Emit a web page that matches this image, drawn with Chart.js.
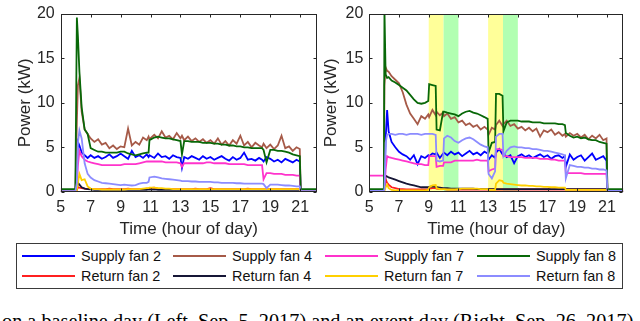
<!DOCTYPE html>
<html><head><meta charset="utf-8">
<script src="https://cdn.jsdelivr.net/npm/chart.js@4"></script>
<style>
html,body{margin:0;padding:0;background:#fff;width:640px;height:321px;overflow:hidden;position:relative;font-family:"Liberation Sans",Arial,sans-serif;}
canvas{position:absolute;top:0;}
#legend{position:absolute;left:16px;top:243px;width:605px;height:44px;border:1px solid #3a3a3a;background:#fff;}
.lg-line{position:absolute;height:1.6px;}
.lg-text{position:absolute;font-size:14.4px;color:#111;line-height:16px;white-space:nowrap;}
#caption{position:absolute;left:2px;top:311px;font-family:"Liberation Serif","Times New Roman",serif;font-size:20.3px;line-height:20px;white-space:nowrap;color:#000;}
</style></head>
<body>
<canvas id="cL" width="320" height="240" style="left:0"></canvas>
<canvas id="cR" width="320" height="240" style="left:320px"></canvas>
<div id="legend"></div>
<div id="caption">on a baseline day (Left, Sep. 5, 2017) and an event day (Right, Sep. 26, 2017)</div>
<script>
// ---------- names / colours ----------
const seriesNames = ["Supply fan 2","Return fan 2","Supply fan 4","Return fan 4","Supply fan 7","Return fan 7","Supply fan 8","Return fan 8"];
const seriesColors = ["#0000ff","#ff2020","#a65a48","#161636","#ff33cc","#ffd000","#086808","#8c8cff"];
const xTickValues = [5,7,9,11,13,15,17,19,21];
const yTickValues = [0,5,10,15,20];
const xTitle = "Time (hour of day)";
const yTitle = "Power (kW)";

// ---------- LEFT panel (baseline day) ----------
const timesL = [5.0,5.98,6.08,6.15,6.25,6.4,6.6,6.8,
 7.0,7.25,7.5,7.75,8.0,8.25,8.5,8.75,
 9.0,9.25,9.5,9.75,10.0,10.25,10.5,10.75,
 10.87,10.93,11.25,11.5,11.75,12.0,12.25,12.5,
 12.75,13.0,13.1,13.25,13.5,13.75,14.0,14.25,
 14.5,14.75,15.0,15.25,15.5,15.75,16.0,16.25,
 16.5,16.75,17.0,17.25,17.5,17.75,18.0,18.25,
 18.45,18.55,18.75,19.0,19.25,19.5,19.75,20.0,
 20.25,20.5,20.75,20.97,21.03,22.1];
const supply2L = [0,0,2.0,5.6,5.2,4.4,4.1,3.8,
 4.1,3.8,4.0,3.7,3.9,4.2,3.8,4.0,
 4.3,4.0,3.7,4.6,3.9,4.1,3.8,4.2,
 3.9,4.1,3.8,4.3,3.9,4.0,3.7,4.1,
 3.9,3.8,2.7,3.9,3.7,4.0,3.8,3.6,
 4.0,3.7,3.9,3.6,3.8,4.0,3.7,3.5,
 3.9,3.6,3.8,4.4,3.6,3.7,3.5,3.8,
 3.6,3.4,3.9,3.7,3.4,3.6,3.3,3.7,
 3.5,3.3,3.6,3.4,0,0];
const return2L = [0,0,0.2,0.5,0.45,0.4,0.35,0.3,
 0.3,0.3,0.3,0.3,0.3,0.35,0.3,0.3,
 0.3,0.3,0.35,0.3,0.3,0.3,0.3,0.35,
 0.35,0.4,0.45,0.35,0.3,0.3,0.3,0.3,
 0.3,0.3,0.3,0.3,0.3,0.3,0.35,0.3,
 0.3,0.3,0.4,0.3,0.3,0.3,0.3,0.3,
 0.3,0.3,0.3,0.3,0.35,0.3,0.3,0.3,
 0.3,0.3,0.3,0.3,0.3,0.3,0.3,0.3,
 0.3,0.3,0.3,0.3,0,0];
const supply4L = [0,0,8.0,12.0,12.8,9.0,7.0,6.5,
 6.0,5.6,5.9,5.3,5.5,4.9,5.2,4.8,
 5.1,5.0,7.1,5.2,5.6,5.3,6.1,5.8,
 6.2,5.9,6.4,6.0,6.8,6.1,6.3,5.9,
 6.6,6.0,6.3,5.8,6.2,5.7,6.0,5.6,
 5.9,5.5,5.8,5.4,6.0,5.3,5.7,5.2,
 5.8,5.4,6.3,5.2,5.6,5.0,5.5,5.2,
 5.0,5.4,4.9,5.3,4.8,5.2,6.3,4.9,
 5.1,4.6,5.0,4.8,0,0];
const return4L = [0,0,0.3,1.0,0.8,0.5,0.35,0.3,
 0.25,0.2,0.2,0.2,0.2,0.2,0.2,0.2,
 0.2,0.2,0.2,0.2,0.2,0.2,0.2,0.2,
 0.25,0.25,0.25,0.2,0.2,0.2,0.2,0.2,
 0.2,0.2,0.2,0.2,0.2,0.2,0.2,0.2,
 0.2,0.2,0.2,0.2,0.2,0.2,0.2,0.2,
 0.2,0.2,0.2,0.2,0.2,0.2,0.2,0.2,
 0.2,0.2,0.2,0.2,0.2,0.2,0.2,0.2,
 0.2,0.2,0.2,0.2,0,0];
const supply7L = [0,0,0.5,3.0,4.6,4.0,3.6,3.4,
 3.3,3.2,3.1,3.0,3.0,3.0,3.0,3.0,
 3.0,3.1,3.1,3.1,3.1,3.2,3.3,3.4,
 3.4,3.4,3.4,3.4,3.4,3.3,3.3,3.3,
 3.3,3.2,2.8,3.2,3.2,3.2,3.2,3.2,
 3.2,3.3,3.3,3.2,3.2,3.2,3.2,3.1,
 3.1,3.1,3.1,3.1,3.0,3.0,3.0,3.0,
 3.0,1.4,2.1,2.1,2.0,2.0,2.0,1.9,
 1.9,1.9,1.8,1.8,0,0];
const return7L = [0,0,0.2,1.0,2.0,1.3,1.4,0.6,
 0.35,0.3,0.3,0.25,0.25,0.25,0.25,0.25,
 0.25,0.25,0.3,0.3,0.3,0.3,0.35,0.4,
 0.4,0.45,0.45,0.4,0.4,0.35,0.35,0.3,
 0.3,0.3,0.3,0.3,0.3,0.3,0.3,0.3,
 0.3,0.3,0.3,0.3,0.3,0.3,0.3,0.3,
 0.3,0.3,0.3,0.3,0.3,0.3,0.3,0.3,
 0.3,0.3,0.3,0.3,0.3,0.3,0.3,0.3,
 0.3,0.3,0.3,0.3,0,0];
const supply8L = [0.3,0.3,19.6,17.5,13.5,9.5,7.0,6.5,
 4.9,4.7,4.5,4.5,4.4,4.4,4.4,4.4,
 4.5,4.5,4.3,4.2,4.1,4.2,4.3,4.4,
 4.4,5.8,6.1,6.2,6.1,6.0,6.0,5.9,
 5.8,5.7,4.2,5.7,5.7,5.6,5.6,5.6,
 5.5,5.5,5.5,5.4,5.4,5.3,5.3,5.2,
 5.2,5.1,5.1,5.0,5.0,4.9,4.9,4.9,
 4.9,4.7,3.3,4.7,4.7,4.6,4.6,4.5,
 4.4,4.2,4.1,4.0,0.3,0.3];
const return8L = [0.05,0.05,1.0,5.5,6.9,6.0,3.2,2.0,
 1.6,1.3,1.15,1.0,0.95,0.9,0.85,0.8,
 0.75,0.8,0.75,0.7,0.75,0.9,1.0,1.0,
 1.1,1.6,1.7,1.6,1.5,1.45,1.4,1.35,
 1.3,1.25,1.2,1.2,1.2,1.15,1.15,1.1,
 1.1,1.1,1.1,1.05,1.05,1.0,1.0,1.0,
 1.0,0.95,0.95,0.9,0.9,0.9,0.9,0.9,
 0.9,0.85,0.4,0.8,0.8,0.8,0.75,0.7,
 0.7,0.65,0.6,0.6,0.05,0.05];

// ---------- RIGHT panel (event day) ----------
const timesR = [5.0,5.98,6.02,6.1,6.2,6.3,6.5,6.75,
 7.0,7.25,7.5,7.75,8.0,8.25,8.5,8.75,
 8.97,9.03,9.25,9.47,9.53,9.75,9.97,10.03,
 10.25,10.5,10.75,11.0,11.25,11.5,11.75,12.0,
 12.25,12.5,12.75,12.97,13.03,13.25,13.47,13.53,
 13.75,13.97,14.03,14.25,14.5,14.75,15.0,15.25,
 15.5,15.75,16.0,16.25,16.5,16.75,17.0,17.25,
 17.5,17.75,18.0,18.17,18.23,18.5,18.75,19.0,
 19.25,19.5,19.75,20.0,20.25,20.5,20.75,20.97,
 21.03,22.1];
const supply2R = [0,0,0.5,6.0,9.2,6.8,5.6,5.0,
 4.5,4.2,4.0,3.6,4.1,3.1,4.0,3.8,
 4.1,4.0,4.3,4.2,4.4,3.8,4.3,4.4,
 4.1,4.5,4.2,4.4,4.0,4.3,4.6,4.2,
 4.4,4.1,4.5,4.3,3.6,4.1,3.8,4.4,
 4.8,4.2,4.3,3.9,4.1,3.2,4.0,4.2,
 3.9,4.1,3.8,4.0,4.2,3.9,4.1,3.7,
 4.0,4.1,3.8,4.0,2.8,4.2,3.6,3.9,
 4.1,3.5,3.9,4.3,3.6,3.8,4.0,3.5,
 0,0];
const return2R = [0,0,0.3,1.4,1.0,0.8,0.5,0.4,
 0.3,0.3,0.25,0.25,0.25,0.25,0.25,0.25,
 0.3,0.35,0.4,0.4,0.35,0.3,0.3,0.3,
 0.25,0.25,0.25,0.25,0.25,0.25,0.25,0.25,
 0.25,0.25,0.25,0.25,0.25,0.25,0.25,0.25,
 0.25,0.25,0.25,0.25,0.25,0.25,0.25,0.25,
 0.25,0.25,0.25,0.25,0.25,0.25,0.25,0.25,
 0.25,0.25,0.25,0.25,0.25,0.25,0.25,0.25,
 0.25,0.25,0.25,0.25,0.25,0.25,0.25,0.25,
 0,0];
const supply4R = [0,0,12.0,14.0,13.6,13.5,13.0,12.6,
 12.2,11.2,9.8,8.8,8.2,7.6,8.5,8.2,
 8.7,8.4,9.2,8.6,9.0,8.6,8.9,8.5,
 8.8,8.2,8.4,7.8,8.0,7.5,7.7,7.3,
 7.5,7.0,7.3,7.0,6.4,7.2,7.0,7.5,
 8.0,7.4,7.6,8.0,7.4,7.6,7.1,7.3,
 6.9,7.2,6.8,7.1,6.2,6.9,6.7,7.0,
 6.4,6.7,6.3,6.5,6.2,6.6,6.3,6.5,
 6.1,6.4,5.9,6.3,6.0,6.4,5.8,6.0,
 0,0];
const return4R = [0,0,0.5,1.8,1.7,1.6,1.5,1.35,
 1.2,1.05,0.9,0.8,0.7,0.6,0.5,0.5,
 0.5,0.55,0.6,0.55,0.5,0.45,0.4,0.4,
 0.4,0.35,0.35,0.35,0.35,0.35,0.35,0.35,
 0.3,0.3,0.3,0.3,0.3,0.3,0.3,0.3,
 0.3,0.3,0.3,0.3,0.3,0.3,0.3,0.3,
 0.3,0.3,0.3,0.3,0.3,0.3,0.3,0.3,
 0.3,0.3,0.3,0.3,0.3,0.3,0.3,0.3,
 0.3,0.3,0.3,0.3,0.3,0.3,0.3,0.3,
 0,0];
const supply7R = [1.8,1.8,0.3,2.5,4.0,3.9,3.8,3.7,
 3.6,3.5,3.4,3.3,3.2,3.1,3.1,3.0,
 3.0,4.0,4.0,4.0,2.8,2.9,2.9,3.3,
 3.3,3.3,3.5,3.5,3.5,3.5,3.5,3.5,
 3.6,3.5,3.5,3.5,2.3,2.5,2.6,4.8,
 4.8,4.7,4.0,4.0,3.9,3.9,3.9,3.9,
 3.8,3.8,3.8,3.8,3.7,3.7,3.7,3.6,
 3.6,3.5,3.5,3.5,2.1,2.1,2.1,2.1,
 2.1,2.0,2.0,2.0,2.0,2.0,2.0,2.0,
 0,0];
const return7R = [0,0,0.1,0.5,0.8,0.4,0.2,0.15,
 0.15,0.15,0.15,0.15,0.15,0.15,0.15,0.15,
 0.2,0.5,0.7,0.75,0.4,0.3,0.3,0.3,
 0.25,0.25,0.25,0.3,0.35,0.35,0.35,0.35,
 0.35,0.3,0.3,0.3,0.2,0.2,0.2,0.9,
 1.3,1.2,1.0,0.9,0.85,0.8,0.75,0.7,
 0.7,0.65,0.65,0.6,0.6,0.55,0.55,0.5,
 0.5,0.45,0.45,0.45,0.2,0.2,0.2,0.2,
 0.2,0.2,0.2,0.2,0.2,0.2,0.2,0.2,
 0,0];
const supply8R = [0.3,0.3,20.5,13.2,12.8,12.9,12.5,12.3,
 12.0,11.7,11.4,10.9,10.4,10.0,9.9,10.0,
 10.2,12.1,12.0,11.9,7.0,6.9,9.0,9.0,
 8.9,8.8,8.7,8.5,8.8,9.0,9.1,8.9,
 8.8,8.6,8.4,8.2,4.4,5.5,5.6,11.0,
 11.0,10.8,6.8,7.8,8.0,8.0,8.0,7.9,
 7.9,7.9,7.8,7.8,7.8,7.7,7.7,7.7,
 7.7,7.6,7.6,7.5,6.6,6.3,6.1,6.2,
 6.0,6.1,5.9,5.8,5.8,5.6,5.5,5.4,
 0.3,0.3];
const return8R = [0.1,0.1,0.3,5.5,6.4,6.5,6.5,6.4,
 6.5,6.5,6.4,6.5,6.5,6.5,6.4,6.5,
 6.5,6.5,6.5,6.4,3.5,3.4,3.5,6.0,
 6.3,6.1,5.7,5.5,5.8,6.0,6.1,5.9,
 5.6,5.3,5.1,5.0,2.0,1.5,2.3,6.2,
 6.5,6.5,4.0,4.6,5.0,5.1,5.0,5.0,
 4.9,4.9,4.8,4.8,4.7,4.6,4.6,4.5,
 4.4,4.3,4.2,4.1,1.5,3.0,2.9,2.8,
 2.8,2.7,2.7,2.6,2.6,2.5,2.5,2.4,
 0.1,0.1];

// event shading (hours) on the right panel
const shadeFrom = [9, 10, 13, 14];
const shadeTo   = [10, 11, 14, 15];
const shadeColor = ["rgb(255,255,153)","rgb(178,255,178)","rgb(255,255,153)","rgb(178,255,178)"];

// ---------- drawing ----------
Chart.defaults.font.family = '"Liberation Sans", Arial, Helvetica, sans-serif';
Chart.defaults.color = '#262626';

const boxPlugin = {
  id: 'matlabBox',
  beforeDatasetsDraw(chart, args, opts) {
    const {ctx, chartArea: a, scales: {x}} = chart;
    (opts.shades || []).forEach(s => {
      const x0 = x.getPixelForValue(s.from), x1 = x.getPixelForValue(s.to);
      ctx.save(); ctx.fillStyle = s.color;
      ctx.fillRect(x0, a.top, x1 - x0, a.bottom - a.top);
      ctx.restore();
    });
  },
  afterDraw(chart) {
    const {ctx, chartArea: a, scales: {x, y}} = chart;
    ctx.save();
    ctx.strokeStyle = '#262626'; ctx.lineWidth = 1;
    const L = Math.round(a.left) + 0.5, R = Math.round(a.right) - 0.5;
    const T = Math.round(a.top) + 0.5, B = Math.round(a.bottom) - 0.5;
    ctx.strokeRect(L, T, R - L, B - T);
    ctx.beginPath();
    x.ticks.forEach(t => {
      const px = Math.round(x.getPixelForValue(t.value)) + 0.5;
      ctx.moveTo(px, B); ctx.lineTo(px, B - 3);
      ctx.moveTo(px, T); ctx.lineTo(px, T + 3);
    });
    y.ticks.forEach(t => {
      const py = Math.round(y.getPixelForValue(t.value)) + 0.5;
      ctx.moveTo(L, py); ctx.lineTo(L + 3, py);
      ctx.moveTo(R, py); ctx.lineTo(R - 3, py);
    });
    ctx.stroke();
    ctx.restore();
  }
};

function makeChart(id, times, series, xMax, yAxisW, padRight, yTitlePad, shades) {
  const datasets = series.map((vals, i) => ({
    label: seriesNames[i],
    data: times.map((t, k) => ({x: t, y: vals[k]})),
    borderColor: seriesColors[i],
    backgroundColor: seriesColors[i],
    borderWidth: 1.8,
    pointRadius: 0,
    tension: 0,
    fill: false,
    order: 8 - i
  }));
  return new Chart(document.getElementById(id), {
    type: 'line',
    data: {datasets},
    options: {
      responsive: false,
      animation: false,
      events: [],
      layout: {padding: {top: 9, right: padRight, left: 0, bottom: 0}},
      plugins: {legend: {display: false}, tooltip: {enabled: false}, matlabBox: {shades}},
      scales: {
        x: {
          type: 'linear', min: 5, max: xMax,
          grid: {display: false, drawTicks: false},
          border: {display: false},
          afterBuildTicks: s => { s.ticks = xTickValues.map(v => ({value: v})); },
          afterFit: s => { s.height = 48.3; },
          ticks: {font: {size: 16}, padding: 6, maxRotation: 0, autoSkip: false, callback: v => String(v)},
          title: {display: true, text: xTitle, font: {size: 17}, padding: {top: 0, bottom: 0}}
        },
        y: {
          type: 'linear', min: 0, max: 20,
          grid: {display: false, drawTicks: false},
          border: {display: false},
          afterBuildTicks: s => { s.ticks = yTickValues.map(v => ({value: v})); },
          afterFit: s => { s.width = yAxisW; },
          ticks: {font: {size: 16, lineHeight: 1}, padding: 6, callback: v => String(v)},
          title: {display: true, text: yTitle, font: {size: 17}, padding: {top: yTitlePad, bottom: 0}}
        }
      }
    },
    plugins: [boxPlugin]
  });
}

makeChart('cL', timesL, [supply2L, return2L, supply4L, return4L, supply7L, return7L, supply8L, return8L],
  22.1, 60.7, 3.3, 14.8, []);
makeChart('cR', timesR, [supply2R, return2R, supply4R, return4R, supply7R, return7R, supply8R, return8R],
  22.1, 49.3, 16.7, 1.5,
  shadeFrom.map((f, i) => ({from: f, to: shadeTo[i], color: shadeColor[i]})));

// ---------- legend (HTML, built from the series arrays) ----------
const lg = document.getElementById('legend');
const colLineX = [4.7, 156, 307.7, 459.7];
const colTextX = [64, 215, 367, 519];
const rowY = [12, 32];
seriesNames.forEach((name, i) => {
  const col = Math.floor(i / 2), row = i % 2;
  const ln = document.createElement('div');
  ln.className = 'lg-line';
  ln.style.left = colLineX[col] + 'px';
  ln.style.top = (rowY[row] - 0.8) + 'px';
  ln.style.width = '53px';
  ln.style.backgroundColor = seriesColors[i];
  lg.appendChild(ln);
  const tx = document.createElement('div');
  tx.className = 'lg-text';
  tx.style.left = colTextX[col] + 'px';
  tx.style.top = (rowY[row] - 8) + 'px';
  tx.textContent = name;
  lg.appendChild(tx);
});
</script>
</body></html>
